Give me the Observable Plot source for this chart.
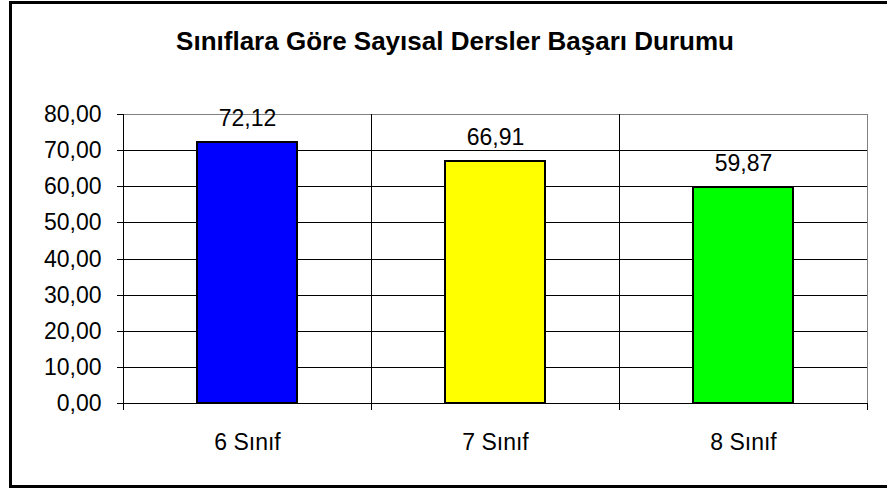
<!DOCTYPE html>
<html><head><meta charset="utf-8">
<script src="https://cdn.jsdelivr.net/npm/d3@7"></script>
<script src="https://cdn.jsdelivr.net/npm/@observablehq/plot@0.6"></script>
<style>
html,body{margin:0;padding:0;background:#fff;overflow:hidden}
#wrap{position:relative;width:887px;height:488px;overflow:hidden;background:#fff}
#chart{position:absolute;left:0;top:0}
#title{position:absolute;left:0;top:28px;width:910px;text-align:center;font:bold 26px/26px "Liberation Sans",Arial,sans-serif;color:#000;white-space:nowrap}
#border{position:absolute;left:9px;top:1px;width:900px;height:487px;border:3px solid #000;box-sizing:border-box;pointer-events:none}
</style></head><body>
<div id="wrap"><div id="chart"></div><div id="title"></div><div id="border"></div></div>
<script>
const chartTitle = "Sınıflara Göre Sayısal Dersler Başarı Durumu";
const categories = ["6 Sınıf", "7 Sınıf", "8 Sınıf"];
const values = [72.12, 66.91, 59.87];
const barColors = ["#0000ff", "#ffff00", "#00ff00"];
const yTicks = [0, 10, 20, 30, 40, 50, 60, 70, 80];

const data = categories.map((c, i) => ({cat: c, val: values[i], color: barColors[i]}));
const fmt = d => d.toFixed(2).replace(".", ",");
const yMax = yTicks[yTicks.length - 1];

const W = 887, H = 488, mL = 123, mR = 20, mT = 114, mB = 85;
const half = (W - mL - mR) / categories.length / 2;
const font = '"Liberation Sans", Arial, sans-serif';

document.getElementById("title").textContent = chartTitle;

const chart = Plot.plot({
  width: W, height: H,
  marginLeft: mL, marginRight: mR, marginTop: mT, marginBottom: mB,
  style: {fontFamily: font, fontSize: "23px", color: "#000", background: "transparent"},
  x: {type: "band", domain: categories, padding: 0, label: null, tickSize: 0, tickPadding: 30},
  y: {domain: [0, yMax], ticks: yTicks, tickFormat: fmt, tickSize: 6, tickPadding: 16, label: null, round: true},
  color: {type: "identity"},
  marks: [
    Plot.ruleY(yTicks.filter(t => t > 0 && t < yMax), {stroke: "#000"}),
    Plot.ruleY([yMax], {stroke: "#808080"}),
    Plot.ruleX(categories, {dx: -half, y1: yMax, y2: 0, stroke: "#000"}),
    Plot.ruleX([categories[categories.length - 1]], {dx: half, y1: yMax, y2: 0, stroke: "#808080"}),
    Plot.ruleX(categories, {dx: -half, y1: 0, y2: 0, insetBottom: -7, stroke: "#000"}),
    Plot.ruleX([categories[categories.length - 1]], {dx: half, y1: 0, y2: 0, insetBottom: -7, stroke: "#000"}),
    Plot.ruleY([0], {stroke: "#000"}),
    Plot.barY(data, {x: "cat", y: "val", fill: "color", stroke: "#000", strokeWidth: 2, insetLeft: 74, insetRight: 74}),
    Plot.text(data, {x: "cat", y: "val", text: d => fmt(d.val), dy: -24, fontSize: 23, fill: "#000"})
  ]
});
document.getElementById("chart").appendChild(chart);
</script>
</body></html>
